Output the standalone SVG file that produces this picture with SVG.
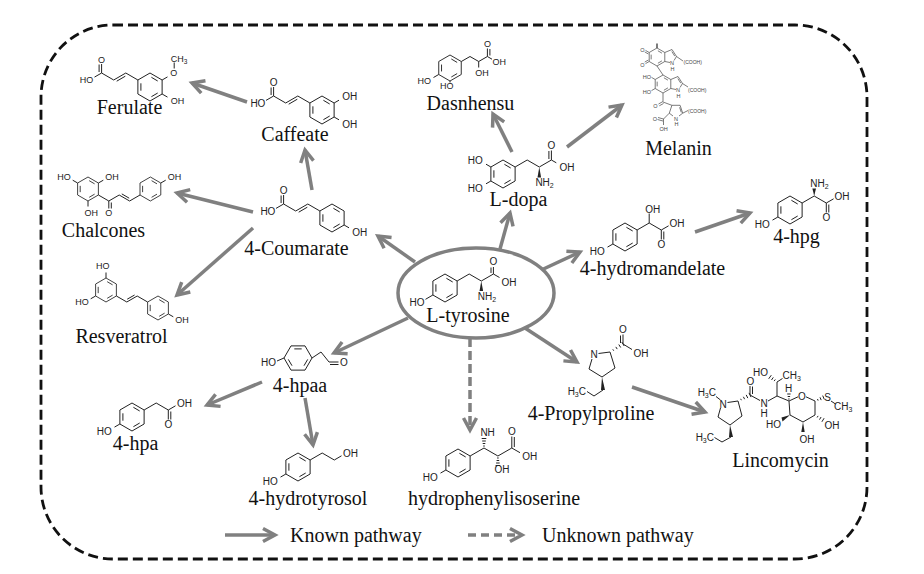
<svg xmlns="http://www.w3.org/2000/svg" width="924" height="574" viewBox="0 0 924 574">
<style>
.b{fill:none;stroke:#222;stroke-width:1;stroke-linejoin:round}
.bm{fill:none;stroke:#444;stroke-width:0.7}
.bmr{fill:none;stroke:#444;stroke-width:1.1}
.w{fill:#222;stroke:none}
.a{font-family:"Liberation Sans",Arial,sans-serif;font-size:10px;fill:#222}
.s{font-size:9px}
.m{font-size:5.5px;fill:#444}
.mm{font-size:5px;fill:#444}
.e{text-anchor:end}
.c{text-anchor:middle}
.lbl{font-family:'Liberation Serif','DejaVu Serif','Times New Roman',Times,serif;font-size:20px;fill:#111;text-anchor:middle}
.leg{font-family:'Liberation Serif','DejaVu Serif','Times New Roman',Times,serif;font-size:20px;fill:#111}
.arr{fill:none;stroke:#808080;stroke-width:3.5;marker-end:url(#ah)}
.dsh{stroke-dasharray:8 5}
</style>
<defs>
<marker id="ah" viewBox="0 0 16 16" refX="13" refY="8" markerWidth="16" markerHeight="16" markerUnits="userSpaceOnUse" orient="auto" overflow="visible">
<path d="M1,1.5L13,8L1,14.5" fill="none" stroke="#808080" stroke-width="3.5"/>
</marker>
<g id="ring"><polygon points="0,-14 12.12,-7 12.12,7 0,14 -12.12,7 -12.12,-7"/><path d="M1.4,-9.7L7.7,-6M7.7,6L1.4,9.7M-9.1,3.7L-9.1,-3.7"/></g>
</defs>
<rect width="924" height="574" fill="#fff"/>
<rect id="border" x="41" y="25" width="826" height="534" rx="72" ry="72" fill="none" stroke="#111" stroke-width="2.8" stroke-dasharray="10 5"/>

<g id="connectors">
<path class="arr" d="M415,262L378,236"/>
<path class="arr" d="M500,249L510,213"/>
<path class="arr" d="M537,272L580,252"/>
<path class="arr" d="M525,328L577,362"/>
<path class="arr" d="M408,318L334,353"/>
<path class="arr" d="M470,338L470,430" stroke-dasharray="9 4"/>
<path class="arr" d="M312,190L305,150"/>
<path class="arr" d="M253,212L177,193"/>
<path class="arr" d="M253,228L177,295"/>
<path class="arr" d="M247,102L192,83"/>
<path class="arr" d="M512,152L493,114"/>
<path class="arr" d="M567,147L622,105"/>
<path class="arr" d="M695,232L750,213"/>
<path class="arr" d="M632,387L705,412"/>
<path class="arr" d="M262,382L207,405"/>
<path class="arr" d="M305,398L313,445"/>
</g>

<g id="legend">
<path class="arr" d="M225,535L275,535"/>
<text class="leg" x="290" y="542">Known pathway</text>
<path class="arr dsh" d="M468,535L522,535"/>
<text class="leg" x="542" y="542">Unknown pathway</text>
</g>

<g id="node-l-tyrosine">
<ellipse cx="476" cy="293" rx="78" ry="45" fill="#fff" stroke="#808080" stroke-width="3.5"/>
<use href="#ring" class="b" transform="translate(445,288)"/>
<path class="b" d="M432.9,295L425.5,299.3M457.1,281L469.2,274L481.3,281L493.4,274L493.4,267M491,273L491,267.5M493.4,274L499.5,277.5"/>
<polygon class="w" points="481.3,281 479.5,291 483.1,291"/>
<text class="a e" x="424.6" y="306">HO</text>
<text class="a c" x="493.4" y="265">O</text>
<text class="a" x="501.5" y="286">OH</text>
<text class="a" x="477.7" y="300">NH<tspan font-size="7" dy="2">2</tspan></text>
<text class="lbl" x="468" y="322">L-tyrosine</text>
</g>

<g id="node-4-coumarate">
<use href="#ring" class="b" transform="translate(332,218)"/>
<path class="b" d="M319.9,211L307.8,204L295.7,211L283.6,204L283.6,195M281.1,203L281.1,195.5M283.6,204L276,208.4M307.3,207.2L298.7,212.2M344.1,225L349,227.8"/>
<text class="a c" x="283.6" y="193.5">O</text>
<text class="a e" x="275.4" y="214.6">HO</text>
<text class="a" x="352.3" y="235.6">OH</text>
<text class="lbl" x="296.5" y="255">4-Coumarate</text>
</g>

<g id="node-caffeate">
<use href="#ring" class="b" transform="translate(322,110)"/>
<path class="b" d="M309.9,103L297.8,96L285.7,103L273.6,96L273.6,87M271.1,95L271.1,87.5M273.6,96L266,100.4M297.3,99.2L288.7,104.2M334.1,103L339,100.2M334.1,117L339,119.8"/>
<text class="a c" x="273.6" y="85.5">O</text>
<text class="a e" x="265.4" y="106.6">HO</text>
<text class="a" x="342.3" y="99.6">OH</text>
<text class="a" x="342.3" y="127.6">OH</text>
<text class="lbl" x="295" y="141">Caffeate</text>
</g>

<g id="node-ferulate">
<use href="#ring" class="b" transform="translate(150,87)"/>
<path class="b" d="M137.9,80L125.8,73L113.7,80L101.6,73L101.6,64M99.1,72L99.1,64.5M101.6,73L94.5,77.1M125.3,76.2L116.7,81.2M162.1,80L167.5,76.9M174.2,68.5L174.2,62.5M162.1,94L167.5,97.1"/>
<text class="a s c" x="101.6" y="62.5">O</text>
<text class="a s e" x="93.2" y="83.2">HO</text>
<text class="a s c" x="173.7" y="76.2">O</text>
<text class="a s" x="170.7" y="61.5">CH<tspan font-size="6.5" dy="2">3</tspan></text>
<text class="a s" x="170.7" y="104.2">OH</text>
<text class="lbl" x="129.5" y="114">Ferulate</text>
</g>

<g id="node-chalcones">
<use href="#ring" class="b" transform="translate(88,189) scale(0.857)"/>
<use href="#ring" class="b" transform="translate(150.4,189) scale(0.857)"/>
<path class="b" d="M77.6,183L72.7,180.2M98.4,183L103.3,180.2M88,201L88,206.5M98.4,195L108.8,201L119.2,195L129.6,201L140,195M108.8,201L108.8,208.5M111.3,202.5L111.3,208.5M121.8,193.9L129.2,198.2M160.8,183L165.7,180.2"/>
<text class="a s e" x="70.7" y="180.2">HO</text>
<text class="a s" x="105.3" y="180.2">OH</text>
<text class="a s" x="84.5" y="216.2">OH</text>
<text class="a s c" x="108.8" y="216.2">O</text>
<text class="a s" x="167.7" y="180.2">OH</text>
<text class="lbl" x="103.5" y="237">Chalcones</text>
</g>

<g id="node-resveratrol">
<use href="#ring" class="b" transform="translate(106,290) scale(0.857)"/>
<use href="#ring" class="b" transform="translate(158,308) scale(0.857)"/>
<path class="b" d="M106,278L106,272.5M95.6,296L90.7,298.8M116.4,296L126.8,302L137.2,296L147.6,302M127.2,299.2L134.6,295M168.4,314L173.3,316.8"/>
<text class="a s e" x="109.5" y="269">HO</text>
<text class="a s e" x="88.7" y="305.2">HO</text>
<text class="a s" x="175.3" y="323.2">OH</text>
<text class="lbl" x="121.5" y="343">Resveratrol</text>
</g>

<g id="node-dasnhensu">
<use href="#ring" class="b" transform="translate(450,68) scale(0.929)"/>
<path class="b" d="M438.7,74.5L433.5,77.5M450,81L450,82.5M461.3,61.5L470,56.5L478.7,61.5L487.4,56.5L487.4,48.5M489.9,55.5L489.9,49M478.7,61.5L478.7,67.5M487.4,56.5L492,59.2"/>
<text class="a s e" x="431" y="84.2">HO</text>
<text class="a s e" x="453.5" y="89.3">HO</text>
<text class="a s" x="475.2" y="75.7">OH</text>
<text class="a s c" x="487.4" y="46.7">O</text>
<text class="a s" x="492.6" y="64.7">OH</text>
<text class="lbl" x="470.5" y="109.5">Dasnhensu</text>
</g>

<g id="node-l-dopa">
<use href="#ring" class="b" transform="translate(503,174)"/>
<path class="b" d="M490.9,167L486,164.2M490.9,181L486,183.8M515.1,167L527.2,160L539.3,167L551.4,160L551.4,150.5M548.9,159L548.9,151M551.4,160L556.3,162.8"/>
<polygon class="w" points="539.3,167 537.5,177.5 541.1,177.5"/>
<text class="a e" x="482.7" y="163.6">HO</text>
<text class="a e" x="482.7" y="191.6">HO</text>
<text class="a c" x="551.4" y="149">O</text>
<text class="a" x="559.6" y="170.6">OH</text>
<text class="a" x="535.4" y="186">NH<tspan font-size="7" dy="2">2</tspan></text>
<text class="lbl" x="518.5" y="206">L-dopa</text>
</g>

<g id="node-melanin">
<use href="#ring" class="bmr" transform="translate(657,57) scale(0.643)"/>
<path class="bm" d="M649.2,52.5L645.5,50.4M648.4,54L644.7,51.9M649.2,61.5L645.5,63.6M648.4,60L644.7,62.1M664.8,52.5L672,49.5L676.5,56.5L674,60.5M670,62.5L664.8,61.5M671.8,51.5L674.8,56.2M676.5,56.5L683,61"/>
<path d="M657,48L657,43.5" stroke="#444" stroke-width="1.4"/>
<text class="a m c" x="642.5" y="51.5">O</text>
<text class="a m c" x="642.5" y="66.5">O</text>
<text class="a m c" x="672" y="65">N</text>
<text class="a m c" x="672.5" y="70.5">H</text>
<text class="a mm" x="683.5" y="64">(COOH)</text>
<use href="#ring" class="bmr" transform="translate(663,84) scale(0.643)"/>
<path class="bm" d="M657,66L663,75M655.2,79.5L651.5,77.4M655.2,88.5L651.5,90.6M670.8,79.5L678,76.5L682.5,83.5L680,87.5M676,89.5L670.8,88.5M677.8,78.5L680.8,83.2M682.5,83.5L688,87"/>
<text class="a m e" x="651" y="78.5">HO</text>
<text class="a m e" x="651" y="93.5">HO</text>
<text class="a m c" x="678" y="92">N</text>
<text class="a m c" x="678.5" y="97.5">H</text>
<text class="a mm" x="688" y="92">(COOH)</text>
<path class="bm" d="M663,93L663,101.5M663,101.5L658.5,104M663.5,103.5L659.3,105.8M663,102L671.9,105.3M671.9,105.3L680.1,105.3L682.7,113.2L679,116M673,116L669.3,113.2L671.9,105.3M679.6,107.3L681.3,112.4M682.7,113.2L688,110.5M669.3,113.2L663.5,119M663.5,119L658,117.5M663,121L657.5,119.5M663.5,119L663.5,125"/>
<text class="a m c" x="655.5" y="108">O</text>
<text class="a m c" x="676" y="120.5">N</text>
<text class="a m c" x="676.5" y="126">H</text>
<text class="a mm" x="688" y="112.5">(COOH)</text>
<text class="a m c" x="655" y="120.5">O</text>
<text class="a m c" x="663.5" y="130.5">OH</text>
<text class="lbl" x="678.5" y="155">Melanin</text>
</g>

<g id="node-4-hydromandelate">
<use href="#ring" class="b" transform="translate(625,237)"/>
<path class="b" d="M612.9,244L607.5,247.1M637.1,230L649.2,223L661.3,230L661.3,239.5M663.8,231.5L663.8,239.5M649.2,223L649.2,213.5M661.3,230L668.6,225.8"/>
<text class="a e" x="604.7" y="254.6">HO</text>
<text class="a" x="645.3" y="212.6">OH</text>
<text class="a c" x="661.3" y="247.6">O</text>
<text class="a" x="669.5" y="226.6">OH</text>
<text class="lbl" x="652.5" y="275">4-hydromandelate</text>
</g>

<g id="node-4-hpg">
<use href="#ring" class="b" transform="translate(790,210)"/>
<path class="b" d="M777.9,217L772.5,220.1M802.1,203L814.2,196L826.3,203L826.3,212.5M828.8,204.5L828.8,212.5M826.3,203L833.6,198.8"/>
<polygon class="w" points="814.2,196 812.4,188.5 816,188.5"/>
<text class="a e" x="769.7" y="227.6">HO</text>
<text class="a" x="810.3" y="187">NH<tspan font-size="7" dy="2">2</tspan></text>
<text class="a c" x="826.3" y="220.6">O</text>
<text class="a" x="834.5" y="199.6">OH</text>
<text class="lbl" x="796.5" y="243">4-hpg</text>
</g>

<g id="node-4-propylproline">
<path class="b" d="M592,359L589,369L602,377L615,368L610,352L598.5,353.5M612.8,349.3L613.7,350.7M615.8,346.9L617.2,349.1M618.8,344.5L620.7,347.5M621.8,342L624.2,346M623,344L623,334.5M620.5,343L620.5,335.5M623,344L632,349.5M603,390L594,396L587,391.5"/>
<polygon class="w" points="602,377 601,390 605,390"/>
<text class="a c" x="594" y="357.6">N</text>
<text class="a c" x="623" y="333">O</text>
<text class="a" x="633.5" y="356.5">OH</text>
<text class="a e" x="586" y="395">H<tspan font-size="7" dy="2">3</tspan><tspan dy="-2">C</tspan></text>
<text class="lbl" x="591" y="420">4-Propylproline</text>
</g>

<g id="node-lincomycin">
<path class="b" d="M720.5,408L718,417L730,425L742,416L738,401L727.5,402.5M720.5,400L716,396.5M740.6,398.8L741.4,400.2M743.4,396.8L744.6,399.2M746.2,394.9L747.8,398.1M749,392.9L751,397.1M750,395L750,386M752.5,394L752.5,386.5M750,395L760,400.5M768,401L777,396M777,396L777,382M775.3,379.5L774.1,381.1M773.3,377.4L771.5,380M771.3,375.2L768.7,378.8M777,382L782.5,378.5M777,396L789,401M788.2,399L789.6,399M787.7,396.5L790.1,396.5M787.2,394L790.6,394M789,401L798,396.8M806,396.8L815,401L815,415L803,422L790,415L789,401M817.5,399L818.1,400.6M820,397.3L821.2,400.1M822.7,395.6L824.3,399.4M831,401L835.5,404M818.1,415.9L817.1,417.5M821.1,417L819.5,419.6M824.1,418.2L821.9,421.8M731,437L722,442L714.5,437.5"/>
<polygon class="w" points="790,415 781.5,417.5 782.5,421.5"/>
<polygon class="w" points="803,422 801.3,432 804.7,432"/>
<polygon class="w" points="730,425 729,437 733,437"/>
<text class="a c" x="723" y="407.6">N</text>
<text class="a e" x="716" y="396">H<tspan font-size="7" dy="2">3</tspan><tspan dy="-2">C</tspan></text>
<text class="a c" x="750.5" y="384.5">O</text>
<text class="a c" x="764" y="406.5">N</text>
<text class="a c" x="764" y="416.5">H</text>
<text class="a e" x="768" y="376">HO</text>
<text class="a" x="782.5" y="378.5">CH<tspan font-size="7" dy="2">3</tspan></text>
<text class="a c" x="788.5" y="392">H</text>
<text class="a c" x="802" y="399.6">O</text>
<text class="a c" x="827.5" y="401">S</text>
<text class="a" x="834" y="409.5">CH<tspan font-size="7" dy="2">3</tspan></text>
<text class="a e" x="781" y="428">HO</text>
<text class="a" x="824.5" y="429">OH</text>
<text class="a" x="799.4" y="443">OH</text>
<text class="a e" x="714" y="441">H<tspan font-size="7" dy="2">3</tspan><tspan dy="-2">C</tspan></text>
<text class="lbl" x="780.5" y="467">Lincomycin</text>
</g>

<g id="node-4-hpaa">
<use href="#ring" class="b" transform="translate(298,358) rotate(90)"/>
<path class="b" d="M284,358L277,361M312,358L321,352L329,362L338.5,362M330,364.5L338.5,364.5"/>
<text class="a e" x="276" y="366">HO</text>
<text class="a c" x="344" y="366">O</text>
<text class="lbl" x="300" y="392">4-hpaa</text>
</g>

<g id="node-4-hpa">
<use href="#ring" class="b" transform="translate(132,417)"/>
<path class="b" d="M119.9,424L114.5,427.1M144.1,410L156.2,403L168.3,410L168.3,419.5M170.8,411.5L170.8,419.5M168.3,410L175.5,405.8"/>
<text class="a e" x="111.7" y="434.6">HO</text>
<text class="a c" x="168.3" y="427.6">O</text>
<text class="a" x="176.9" y="406.6">OH</text>
<text class="lbl" x="135.5" y="450">4-hpa</text>
</g>

<g id="node-4-hydrotyrosol">
<use href="#ring" class="b" transform="translate(298,467)"/>
<path class="b" d="M285.9,474L280.5,477.1M310.1,460L322.2,453L334.3,460L341.5,455.8"/>
<text class="a e" x="277.7" y="484.6">HO</text>
<text class="a" x="342.9" y="456.6">OH</text>
<text class="lbl" x="308" y="505">4-hydrotyrosol</text>
</g>

<g id="node-hydrophenylisoserine">
<use href="#ring" class="b" transform="translate(458,463)"/>
<path class="b" d="M445.9,470L440.5,473.1M470.1,456L484,448L497.9,456L511.8,448L511.8,436.5M514.3,447L514.3,437M511.8,448L520,452.7M483.2,446L484.8,446M482.7,443.5L485.3,443.5M482.2,441L485.8,441M481.7,438.5L486.3,438.5M497.1,458L498.7,458M496.6,460.5L499.2,460.5M496.1,463L499.7,463M495.6,465.5L500.2,465.5"/>
<text class="a e" x="437.7" y="480.6">HO</text>
<text class="a" x="480.4" y="436">NH</text>
<text class="a c" x="511.8" y="434.5">O</text>
<text class="a" x="522.2" y="459.6">OH</text>
<text class="a" x="494.4" y="473">OH</text>
<text class="lbl" x="494" y="505">hydrophenylisoserine</text>
</g>
</svg>
